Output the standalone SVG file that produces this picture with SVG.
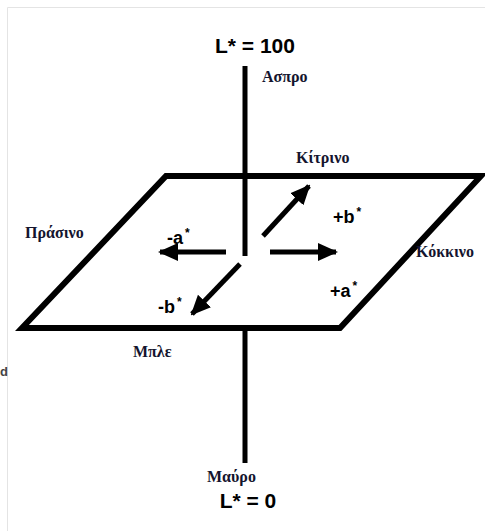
<svg xmlns="http://www.w3.org/2000/svg" width="485" height="531" viewBox="0 0 485 531">
<defs>
<style>
.ln{stroke:#000;stroke-width:5;fill:none}
.pl{stroke:#000;stroke-width:6;fill:none;stroke-linejoin:miter}
.gr{font-family:"Liberation Serif","Times New Roman",serif;font-weight:bold;font-size:16px;fill:#14142e}
.ax{font-family:"Liberation Sans",Arial,sans-serif;font-weight:bold;fill:#000}
.lab{font-family:"Liberation Sans",Arial,sans-serif;font-weight:bold;font-size:18px;fill:#000}
.sup{font-size:12px}
</style>
<marker id="ah" markerUnits="userSpaceOnUse" markerWidth="20" markerHeight="20" viewBox="0 0 20 20" refX="18" refY="10" orient="auto">
<path d="M0,1 L20,10 L0,19 Z" fill="#000"/>
</marker>
</defs>
<rect width="485" height="531" fill="#fff"/>
<path d="M7.5,531 V7.5 H485" stroke="#e4e4e4" stroke-width="1" fill="none"/>
<text x="0" y="376" font-family="Liberation Sans,Arial,sans-serif" font-weight="bold" font-size="13" fill="#444">d</text>

<g id="axis">
<line class="ln" x1="245" y1="66" x2="245" y2="256"/>
<line class="ln" x1="245" y1="326" x2="245" y2="463"/>
</g>
<g id="plane">
<polygon class="pl" points="166,176 481,176 340,328 22,328"/>
</g>

<g id="connectors">
<line class="ln" x1="226" y1="252" x2="160" y2="252" marker-end="url(#ah)"/>
<line class="ln" x1="270" y1="252" x2="336" y2="252" marker-end="url(#ah)"/>
<line class="ln" x1="263" y1="236" x2="309" y2="186" marker-end="url(#ah)"/>
<line class="ln" x1="240" y1="264" x2="192" y2="314" marker-end="url(#ah)"/>
</g>

<g id="top">
<text class="ax" x="255" y="53" font-size="21" text-anchor="middle">L* = 100</text>
<text class="gr" x="262" y="82">Ασπρο</text>
</g>
<g id="bottom">
<text class="gr" x="207" y="482">Μαύρο</text>
<text class="ax" x="248" y="508" font-size="21" text-anchor="middle">L* = 0</text>
</g>
<g id="yellow"><text class="gr" x="296" y="163">Κίτρινο</text></g>
<g id="green"><text class="gr" x="25" y="238">Πράσινο</text></g>
<g id="red"><text class="gr" x="416" y="257">Κόκκινο</text></g>
<g id="blue"><text class="gr" x="133" y="357">Μπλε</text></g>

<g id="minus-a"><text class="lab" x="167" y="244">-a<tspan class="sup" dx="2" dy="-7">*</tspan></text></g>
<g id="plus-b"><text class="lab" x="333" y="223">+b<tspan class="sup" dx="2" dy="-7">*</tspan></text></g>
<g id="plus-a"><text class="lab" x="330" y="297">+a<tspan class="sup" dx="2" dy="-7">*</tspan></text></g>
<g id="minus-b"><text class="lab" x="158" y="313">-b<tspan class="sup" dx="2" dy="-7">*</tspan></text></g>
</svg>
